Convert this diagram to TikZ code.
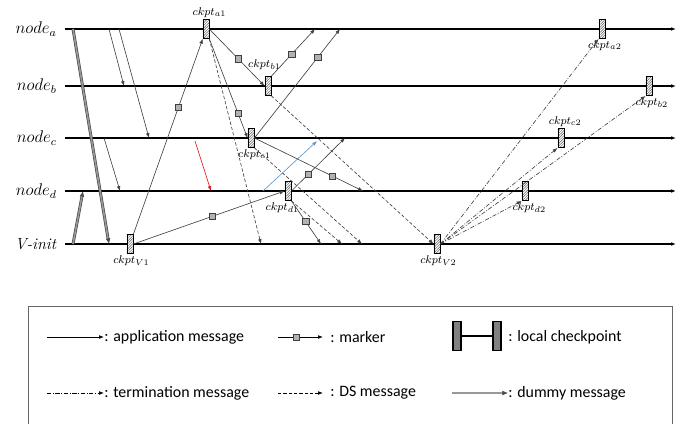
\documentclass[tikz,border=0pt]{standalone}
\usepackage{fontspec}
\newfontfamily\legendfont{Carlito}
\usetikzlibrary{arrows.meta,patterns.meta}
\definecolor{msgred}{RGB}{230,20,20}
\definecolor{msgblue}{RGB}{91,150,205}

\begin{document}
\begin{tikzpicture}[x=0.025cm,y=-0.025cm,>={Latex[length=3.5pt,width=2.6pt]},
  timeline/.style={line width=0.9pt,->},
  msg/.style={black!75,line width=0.45pt,->},
  dsmsg/.style={msg,dash pattern=on 2.4pt off 1.4pt},
  termmsg/.style={msg,dash pattern=on 3pt off 1.2pt on 0.6pt off 1.2pt},
  dummy/.style={draw=black!70,double=black!40,double distance=1.1pt,line width=0.5pt,
    -{Latex[length=4pt,width=3.4pt]}},
  mksq/.style={draw=black!75,fill=black!30,rectangle,inner sep=0pt,minimum size=4.5pt,line width=0.4pt},
  ckpt/.style={draw,line width=0.6pt,rectangle,inner sep=0pt,
    minimum width=4.3pt,minimum height=13.5pt,preaction={fill=white},
    pattern={Lines[angle=45,distance=1.3pt,line width=0.35pt]},pattern color=black!65},
  ckl/.style={font=\fontsize{8}{9}\selectfont,inner sep=1pt},
  lbl/.style={anchor=east,font=\fontsize{11.5}{13}\selectfont,inner sep=0pt},
  legtxt/.style={anchor=west,font=\legendfont\fontsize{11.3}{13}\selectfont,inner sep=0pt},
  legck/.style={draw,line width=0.9pt,fill=black!50,rectangle,inner sep=0pt,
    minimum width=5.7pt,minimum height=21pt}]
  \useasboundingbox (0,0) rectangle (683,423);

  % process lines
  \foreach \n/\y/\t in {a/29/$node_a$,b/86/$node_b$,c/138/$node_c$,
      d/191/$node_d$,v/244/\textit{V-init}} {
    \node[lbl] (l\n) at (57,\y) {\t};
    \coordinate (\n s) at (65,\y);
    \coordinate (\n e) at (676,\y);
    \draw[timeline] (\n s) -- (\n e);
  }

  % checkpoints
  \node[ckpt,label={[ckl,xshift=2.5pt]above:$ckpt_{a1}$}] (ca1) at (206,29) {};
  \node[ckpt,label={[ckl,xshift=-2.5pt,yshift=3pt]above:$ckpt_{b1}$}] (cb1) at (268,86) {};
  \node[ckpt,label={[ckl,xshift=2.5pt]below:$ckpt_{c1}$}] (cc1) at (251,138) {};
  \node[ckpt,label={[ckl,xshift=-4pt]below:$ckpt_{d1}$}] (cd1) at (288,191) {};
  \node[ckpt,label={[ckl,xshift=1pt]below:$ckpt_{V1}$}] (cv1) at (130,244) {};
  \node[ckpt,label={[ckl,xshift=2pt]below:$ckpt_{a2}$}] (ca2) at (602,29) {};
  \node[ckpt,label={[ckl,xshift=2pt]below:$ckpt_{b2}$}] (cb2) at (649,86) {};
  \node[ckpt,label={[ckl,xshift=3pt]above:$ckpt_{c2}$}] (cc2) at (561,138) {};
  \node[ckpt,label={[ckl,xshift=3pt]below:$ckpt_{d2}$}] (cd2) at (525,191) {};
  \node[ckpt,label={[ckl,xshift=1pt]below:$ckpt_{V2}$}] (cv2) at (437,244) {};

  % free ends of messages
  \coordinate (snd1) at (109,29);  \coordinate (rcv1) at (124,86);
  \coordinate (snd2) at (119,29);  \coordinate (rcv2) at (149,138);
  \coordinate (snd3) at (104,138); \coordinate (rcv3) at (120,191);
  \coordinate (snd4) at (195,141); \coordinate (rcv4) at (211,191);
  \coordinate (snd5) at (263,191); \coordinate (rcv5) at (317,141);
  \coordinate (dm1s) at (73,29);   \coordinate (dm1r) at (109,244);
  \coordinate (dm2s) at (73,244);  \coordinate (dm2r) at (83,191);
  \coordinate (mk1) at (315,29);   \coordinate (mk2) at (340,29);
  \coordinate (mk3) at (363,191);  \coordinate (mk4) at (345,138);
  \coordinate (mk5) at (321,244);
  \coordinate (ds1) at (261,244);  \coordinate (ds2) at (362,244);
  \coordinate (ds3) at (342,244);

  % dummy and application messages
  \draw[dummy] (dm1s) -- (dm1r);
  \draw[dummy] (dm2s) -- (dm2r);
  \draw[msg] (snd1) -- (rcv1);
  \draw[msg] (snd2) -- (rcv2);
  \draw[msg] (snd3) -- (rcv3);
  \draw[msg,msgred] (snd4) -- (rcv4);
  \draw[msg,msgblue] (snd5) -- (rcv5);

  % markers
  \draw[msg] (cv1.north east) -- node[mksq,pos=0.65] (m1) {} (ca1.south west);
  \draw[msg] (cv1.east) -- node[mksq,pos=0.52] (m2) {} (cd1.west);
  \draw[msg] (ca1.east) -- node[mksq,pos=0.52] (m3) {} (cb1.west);
  \draw[msg] (ca1.south east) -- node[mksq,pos=0.75] (m4) {} (cc1.west);
  \draw[msg] (cb1.north east) -- node[mksq,pos=0.47] (m5) {} (mk1);
  \draw[msg] (cc1.east) -- node[mksq,pos=0.74] (m6) {} (mk2);
  \draw[msg] (cc1.east) -- node[mksq,pos=0.72] (m7) {} (mk3);
  \draw[msg] (cd1.east) -- node[mksq,pos=0.31] (m8) {} (mk4);
  \draw[msg] (cd1.south east) -- node[mksq,pos=0.48] (m9) {} (mk5);

  % DS messages
  \draw[dsmsg] (ca1.south east) -- (ds1);
  \draw[dsmsg] (cb1.south east) -- (cv2.west);
  \draw[dsmsg] (cc1.south east) -- (ds2);
  \draw[dsmsg] (cd1.south east) -- (ds3);

  % termination messages
  \foreach \k in {a,b,c,d}
    \draw[termmsg] (cv2.east) -- (c\k2.south west);

  % legend
  \draw[black!60,line width=0.6pt] (28,440) -- (28,306) -- (672,306) -- (672,440);
  \coordinate (lg1) at (47,337);  \node[legtxt] (lt1) at (104,337) {: application message};
  \coordinate (lg3) at (278,337); \coordinate (lg3e) at (323,337);
  \node[legtxt] (lt2) at (330,337) {: marker};
  \node[legck] (hl) at (457,336) {};
  \node[legck] (hr) at (497,336) {};
  \node[legtxt] (lt3) at (508,337) {: local checkpoint};
  \coordinate (lg4) at (47,393);  \node[legtxt] (lt4) at (104,393) {: termination message};
  \coordinate (lg5) at (278,393); \coordinate (lg5e) at (323,393);
  \node[legtxt] (lt5) at (330,393) {: DS message};
  \coordinate (lg6) at (452,393); \node[legtxt] (lt6) at (508,393) {: dummy message};

  \draw[msg,black] (lg1) -- (lt1.west);
  \draw[msg,black] (lg3) -- node[mksq,pos=0.4] (m0) {} (lg3e);
  \draw[line width=1.1pt] (hl.east) -- (hr.west);
  \draw[termmsg,black] (lg4) -- (lt4.west);
  \draw[dsmsg,black] (lg5) -- (lg5e);
  \draw[dummy] (lg6) -- (lt6.west);
\end{tikzpicture}
\end{document}
